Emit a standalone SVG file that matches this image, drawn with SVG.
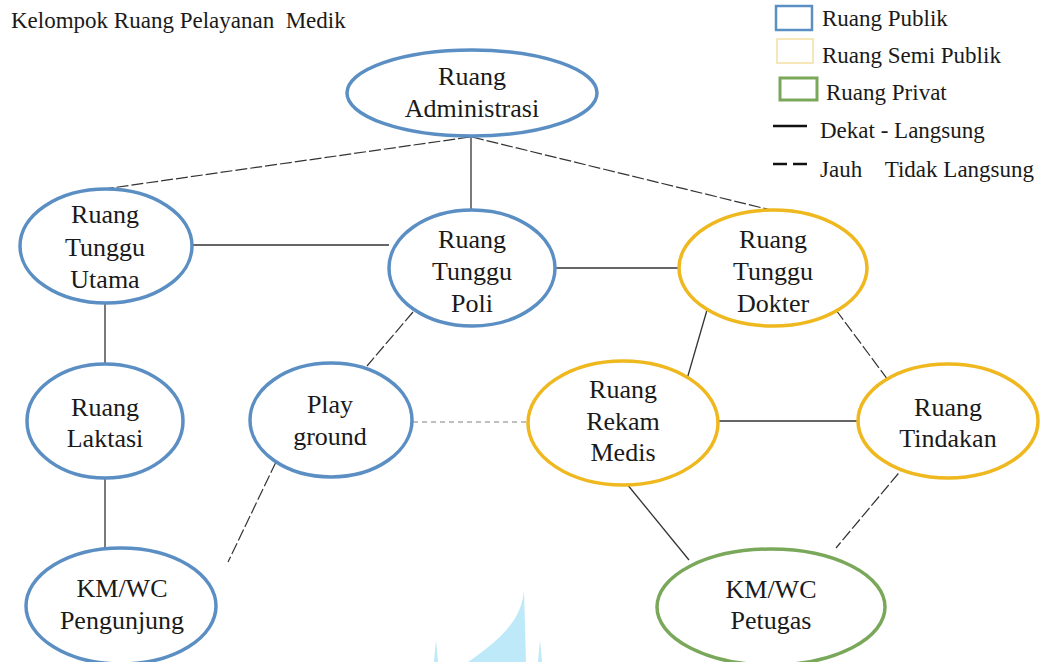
<svg xmlns="http://www.w3.org/2000/svg" width="1048" height="662" viewBox="0 0 1048 662" font-family="Liberation Serif, serif">
<defs>
<style>
.t{font-size:26px;fill:#1a1a1a;text-anchor:middle}
.lg{font-size:23px;fill:#1a1a1a}
.pub{fill:#fff;stroke:#5b8fc4;stroke-width:3.5}
.semi{fill:#fff;stroke:#efb81f;stroke-width:3.5}
.priv{fill:#fff;stroke:#7aa85a;stroke-width:3.5}
.c{stroke:#333;stroke-width:1.3;fill:none}
.d{stroke:#333;stroke-width:1.2;fill:none;stroke-dasharray:12 3}
.g{stroke:#aaa;stroke-width:1.3;fill:none;stroke-dasharray:5 4}
</style>
</defs>
<rect width="1048" height="662" fill="#fff"/>
<path d="M524 590 C522 620 500 640 468 662 L526 662 Z M436 640 L434 662 L438 662 Z M540 640 L538 662 L542 662 Z" fill="#bde9f9"/>
<text x="11" y="28" font-family="Liberation Serif" font-size="23" fill="#1a1a1a" xml:space="preserve">Kelompok Ruang Pelayanan  Medik</text>
<g id="legend" font-family="Liberation Serif">
<rect x="776" y="6" width="36" height="24" fill="#fff" stroke="#5b8fc4" stroke-width="2.5"/>
<text class="lg" x="822" y="26" font-family="Liberation Serif">Ruang Publik</text>
<rect x="777" y="39" width="36" height="24" fill="#fff" stroke="#f2dfa0" stroke-width="1.5"/>
<text class="lg" x="822" y="63" font-family="Liberation Serif">Ruang Semi Publik</text>
<rect x="780" y="78" width="37" height="22" fill="#fff" stroke="#7aa85a" stroke-width="3"/>
<text class="lg" x="826" y="100" font-family="Liberation Serif">Ruang Privat</text>
<line x1="773" y1="126" x2="807" y2="126" stroke="#111" stroke-width="2.5"/>
<text class="lg" x="820" y="138" font-family="Liberation Serif">Dekat - Langsung</text>
<line x1="773" y1="164" x2="787" y2="164" stroke="#111" stroke-width="2.5"/>
<line x1="793" y1="164" x2="807" y2="164" stroke="#111" stroke-width="2.5"/>
<text class="lg" x="820" y="177" font-family="Liberation Serif" xml:space="preserve">Jauh    Tidak Langsung</text>
</g>
<g id="connectors">
<line class="d" x1="470" y1="137" x2="97" y2="190"/>
<line class="c" x1="471" y1="137" x2="471" y2="210"/>
<line class="d" x1="472" y1="137" x2="775" y2="211"/>
<line class="c" x1="191" y1="245" x2="389" y2="245"/>
<line class="c" x1="555" y1="268" x2="679" y2="268"/>
<line class="c" x1="105" y1="303" x2="105" y2="364"/>
<line class="d" x1="413" y1="312" x2="367" y2="366"/>
<line class="c" x1="105" y1="478" x2="105" y2="547"/>
<line class="d" x1="276" y1="462" x2="228" y2="562"/>
<line class="g" x1="413" y1="422" x2="527" y2="422"/>
<line class="c" x1="707" y1="310" x2="687" y2="379"/>
<line class="d" x1="836" y1="310" x2="888" y2="380"/>
<line class="c" x1="719" y1="421" x2="858" y2="421"/>
<line class="c" x1="622" y1="478" x2="689" y2="560"/>
<line class="d" x1="908" y1="462" x2="836" y2="548"/>
</g>
<g id="n-admin" font-family="Liberation Serif"><ellipse class="pub" cx="472" cy="93" rx="125" ry="43"/><text class="t" x="472" y="85" font-family="Liberation Serif">Ruang</text><text class="t" x="472" y="117" font-family="Liberation Serif">Administrasi</text></g>
<g id="n-rtu" font-family="Liberation Serif"><ellipse class="pub" cx="106" cy="246" rx="86" ry="57"/><text class="t" x="105" y="223" font-family="Liberation Serif">Ruang</text><text class="t" x="105" y="256" font-family="Liberation Serif">Tunggu</text><text class="t" x="105" y="288" font-family="Liberation Serif">Utama</text></g>
<g id="n-rtp" font-family="Liberation Serif"><ellipse class="pub" cx="472" cy="268" rx="83" ry="58"/><text class="t" x="472" y="248" font-family="Liberation Serif">Ruang</text><text class="t" x="472" y="280" font-family="Liberation Serif">Tunggu</text><text class="t" x="472" y="312" font-family="Liberation Serif">Poli</text></g>
<g id="n-rtd" font-family="Liberation Serif"><ellipse class="semi" cx="773" cy="268" rx="94" ry="58"/><text class="t" x="773" y="248" font-family="Liberation Serif">Ruang</text><text class="t" x="773" y="280" font-family="Liberation Serif">Tunggu</text><text class="t" x="773" y="312" font-family="Liberation Serif">Dokter</text></g>
<g id="n-laktasi" font-family="Liberation Serif"><ellipse class="pub" cx="105" cy="421" rx="78" ry="57"/><text class="t" x="105" y="416" font-family="Liberation Serif">Ruang</text><text class="t" x="105" y="447" font-family="Liberation Serif">Laktasi</text></g>
<g id="n-play" font-family="Liberation Serif"><ellipse class="pub" cx="331" cy="420" rx="81" ry="57"/><text class="t" x="330" y="413" font-family="Liberation Serif">Play</text><text class="t" x="330" y="445" font-family="Liberation Serif">ground</text></g>
<g id="n-rekam" font-family="Liberation Serif"><ellipse class="semi" cx="623" cy="423" rx="95" ry="62"/><text class="t" x="623" y="398" font-family="Liberation Serif">Ruang</text><text class="t" x="623" y="430" font-family="Liberation Serif">Rekam</text><text class="t" x="623" y="461" font-family="Liberation Serif">Medis</text></g>
<g id="n-tindakan" font-family="Liberation Serif"><ellipse class="semi" cx="948" cy="421" rx="90" ry="57"/><text class="t" x="948" y="416" font-family="Liberation Serif">Ruang</text><text class="t" x="948" y="447" font-family="Liberation Serif">Tindakan</text></g>
<g id="n-kmwc1" font-family="Liberation Serif"><ellipse class="pub" cx="121" cy="606" rx="95" ry="58"/><text class="t" x="122" y="597" font-family="Liberation Serif">KM/WC</text><text class="t" x="122" y="629" font-family="Liberation Serif">Pengunjung</text></g>
<g id="n-kmwc2" font-family="Liberation Serif"><ellipse class="priv" cx="771" cy="607" rx="114" ry="58"/><text class="t" x="771" y="598" font-family="Liberation Serif">KM/WC</text><text class="t" x="771" y="629" font-family="Liberation Serif">Petugas</text></g>
</svg>
